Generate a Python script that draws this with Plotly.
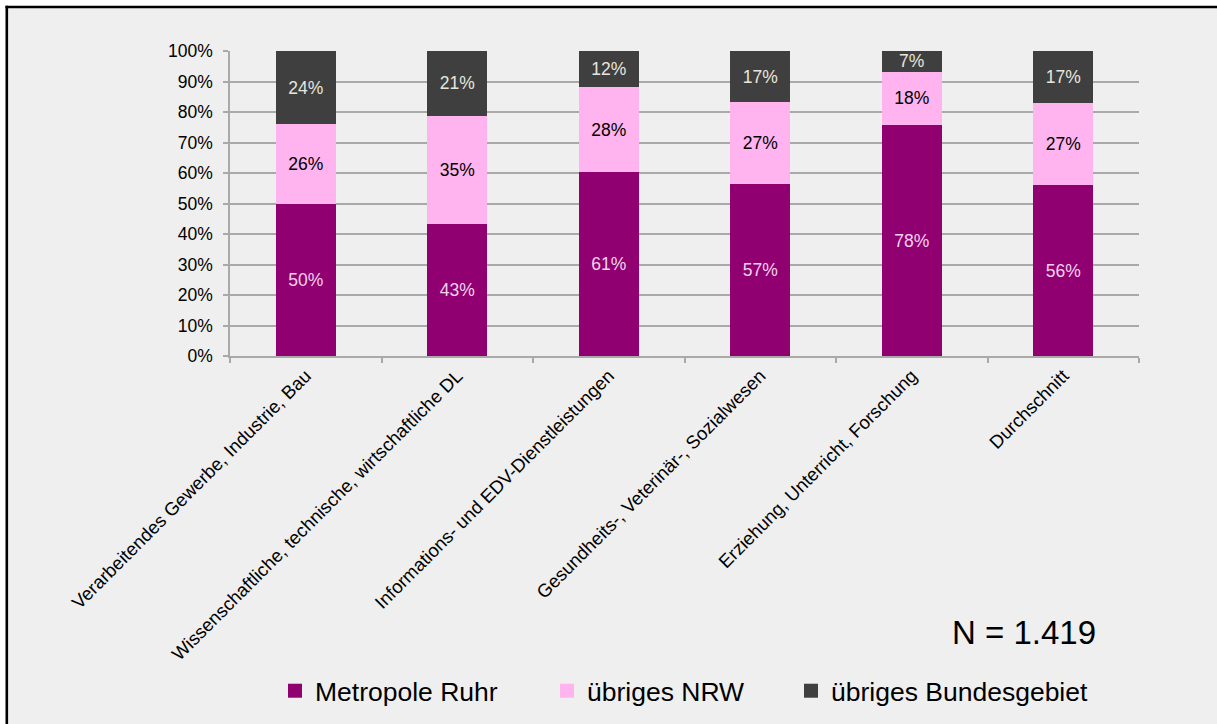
import plotly.graph_objects as go

# Branches and the share of locations in each region (percent)
categories = [
    "Verarbeitendes Gewerbe, Industrie, Bau",
    "Wissenschaftliche, technische, wirtschaftliche DL",
    "Informations- und EDV-Dienstleistungen",
    "Gesundheits-, Veterinär-, Sozialwesen",
    "Erziehung, Unterricht, Forschung",
    "Durchschnitt",
]
metropole_ruhr = [50, 43, 61, 57, 78, 56]
uebriges_nrw = [26, 35, 28, 27, 18, 27]
uebriges_bundesgebiet = [24, 21, 12, 17, 7, 17]

series = [
    ("Metropole Ruhr", metropole_ruhr, "#900070", "#F3D3EC", "legend"),
    ("übriges NRW", uebriges_nrw, "#FFB3EF", "#000000", "legend2"),
    ("übriges Bundesgebiet", uebriges_bundesgebiet, "#3F3F3F", "#E6E6DE", "legend3"),
]

FONT = "Liberation Sans, Arial, sans-serif"
GRID = "#A9A9A9"

fig = go.Figure()
for name, values, color, text_color, legend_id in series:
    fig.add_trace(go.Bar(
        x=categories,
        y=values,
        name=name,
        marker=dict(color=color, line=dict(width=0)),
        text=[f"{v}%" for v in values],
        textposition="inside",
        insidetextanchor="middle",
        textangle=0,
        textfont=dict(family=FONT, size=17.5, color=text_color),
        showlegend=False,
        hoverinfo="skip",
    ))
    # legend entry with a square swatch
    fig.add_trace(go.Scatter(
        x=[None], y=[None], mode="markers", name=name,
        marker=dict(symbol="square", size=14, color=color),
        legend=legend_id, showlegend=True,
    ))

W, H = 1217, 724
L, R, T, B = 230, 78, 51, 367
pw, ph = W - L - R, H - T - B


def px_x(p):
    return (p - L) / pw


def px_y(p):
    return (H - B - p) / ph


legend_common = dict(
    orientation="h", yanchor="middle", xanchor="left",
    font=dict(family=FONT, size=26.5, color="#000000"),
    bgcolor="rgba(0,0,0,0)", borderwidth=0,
    itemclick=False, itemdoubleclick=False,
)

frame_x, frame_y = 6.8, 6.8

fig.update_layout(
    width=W, height=H,
    margin=dict(l=L, r=R, t=T, b=B),
    barmode="stack",
    barnorm="percent",
    bargap=0.604,
    paper_bgcolor="#FFFFFF",
    plot_bgcolor="rgba(0,0,0,0)",
    font=dict(family=FONT, color="#000000"),
    uniformtext=dict(minsize=17, mode="show"),
    legend=dict(x=px_x(275), y=px_y(691), **legend_common),
    legend2=dict(x=px_x(547), y=px_y(691), **legend_common),
    legend3=dict(x=px_x(791), y=px_y(691), **legend_common),
    xaxis=dict(
        showline=True, linecolor=GRID, linewidth=1.5,
        ticks="outside", ticklen=5, tickcolor=GRID, tickwidth=1.5,
        tickson="boundaries",
        tickangle=-45,
        tickfont=dict(family=FONT, size=18.5, color="#000000"),
        showgrid=False,
        fixedrange=True,
    ),
    yaxis=dict(
        range=[0, 100], dtick=10, ticksuffix="%",
        showline=True, linecolor=GRID, linewidth=1.5,
        ticks="outside", ticklen=5, tickcolor=GRID, tickwidth=1.5,
        ticklabelstandoff=7,
        showgrid=True, gridcolor=GRID, gridwidth=1.5,
        zeroline=False,
        tickfont=dict(family=FONT, size=17.5, color="#000000"),
        fixedrange=True,
    ),
    shapes=[
        # grey panel behind the chart
        dict(
            type="rect", xref="paper", yref="paper", layer="below",
            x0=px_x(frame_x), x1=px_x(1300), y0=px_y(800), y1=px_y(frame_y),
            fillcolor="#EFEFEF", line=dict(width=0),
        ),
        # black frame edges along the top and left
        dict(
            type="line", xref="paper", yref="paper", layer="below",
            x0=px_x(frame_x - 1.3), x1=px_x(1300), y0=px_y(frame_y), y1=px_y(frame_y),
            line=dict(color="#000000", width=2.6),
        ),
        dict(
            type="line", xref="paper", yref="paper", layer="below",
            x0=px_x(frame_x), x1=px_x(frame_x), y0=px_y(frame_y - 1.3), y1=px_y(800),
            line=dict(color="#000000", width=2.6),
        ),
    ],
    annotations=[
        dict(
            text="N = 1.419", xref="paper", yref="paper",
            x=px_x(1098), y=px_y(634), xanchor="right", yanchor="middle",
            showarrow=False, font=dict(family=FONT, size=33, color="#000000"),
        ),
    ],
)

fig.write_html("out.html")
